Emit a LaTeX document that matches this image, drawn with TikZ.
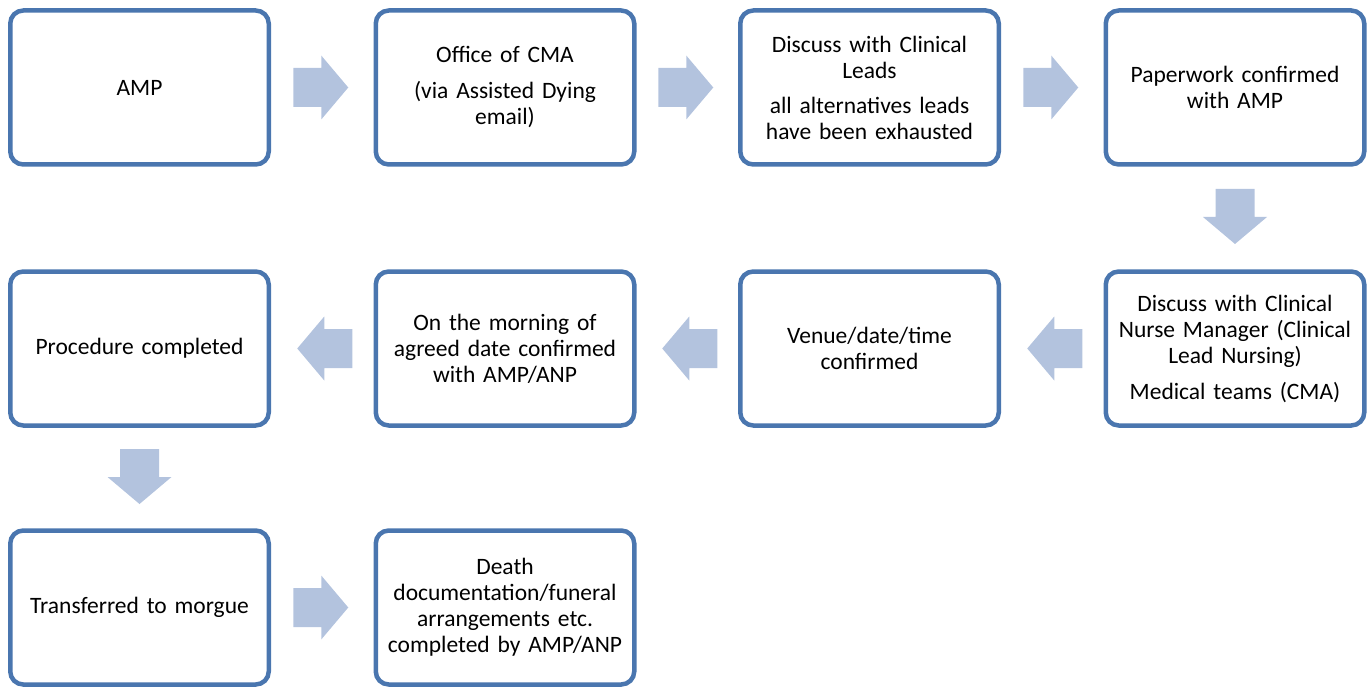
\documentclass[tikz,border=0pt]{standalone}
\usepackage{fontspec}
\setmainfont{Carlito}
\usetikzlibrary{calc}
\definecolor{boxline}{RGB}{74,118,175}
\definecolor{arrowfill}{RGB}{179,195,222}
\tikzset{
  stepbox/.style={draw=boxline, line width=4.5pt, rounded corners=13pt, fill=white,
    minimum width=258.5pt, minimum height=154pt, align=center, inner sep=4pt,
    text width=250pt, font=\fontsize{23.5}{26}\selectfont},
  blockarr/.pic={\fill[arrowfill] (-27.5,-19.5) -- (0.5,-19.5) -- (0.5,-32) -- (27.5,0)
     -- (0.5,32) -- (0.5,19.5) -- (-27.5,19.5) -- cycle;}
}
\begin{document}
\begin{tikzpicture}[x=1pt,y=-1pt]
\useasboundingbox (0,0) rectangle (1368,687);
% row 1
\node[stepbox] (b1) at (139.5,87.5) {AMP};
\node[stepbox] (b2) at (505,87.5) {Office of CMA\\[10pt](via Assisted Dying\\email)};
\node[stepbox] (b3) at (869.5,87.5) {Discuss with Clinical\\Leads\\[9pt]all alternatives leads\\have been exhausted};
\node[stepbox] (b4) at (1235,87.5) {Paperwork confirmed\\with AMP};
% row 2
\node[stepbox] (b5) at (1235,348.5) {Discuss with Clinical\\Nurse Manager (Clinical\\Lead Nursing)\\[10pt]Medical teams (CMA)};
\node[stepbox] (b6) at (869.5,348.5) {Venue/date/time\\confirmed};
\node[stepbox] (b7) at (505,348.5) {On the morning of\\agreed date confirmed\\with AMP/ANP};
\node[stepbox] (b8) at (139.5,348.5) {Procedure completed};
% row 3
\node[stepbox] (b9) at (139.5,607.5) {Transferred to morgue};
\node[stepbox] (b10) at (505,607.5) {Death\\documentation/funeral\\arrangements etc.\\completed by AMP/ANP};
% arrows between the named boxes
\coordinate (m1) at ($(b1.east)!0.5!(b2.west)+(-1.5,0)$);
\coordinate (m2) at ($(b2.east)!0.5!(b3.west)+(-1.5,0)$);
\coordinate (m3) at ($(b3.east)!0.5!(b4.west)+(-1.5,0)$);
\coordinate (m4) at ($(b4.south)!0.5!(b5.north)+(0,-1.5)$);
\coordinate (m5) at ($(b5.west)!0.5!(b6.east)+(2.5,0)$);
\coordinate (m6) at ($(b6.west)!0.5!(b7.east)+(2.5,0)$);
\coordinate (m7) at ($(b7.west)!0.5!(b8.east)+(2.5,0)$);
\coordinate (m8) at ($(b8.south)!0.5!(b9.north)+(0,-1.5)$);
\coordinate (m9) at ($(b9.east)!0.5!(b10.west)+(-1.5,0)$);
\pic at (m1) {blockarr};
\pic at (m2) {blockarr};
\pic at (m3) {blockarr};
\pic[rotate=270] at (m4) {blockarr};
\pic[rotate=180] at (m5) {blockarr};
\pic[rotate=180] at (m6) {blockarr};
\pic[rotate=180] at (m7) {blockarr};
\pic[rotate=270] at (m8) {blockarr};
\pic at (m9) {blockarr};
\end{tikzpicture}
\end{document}
